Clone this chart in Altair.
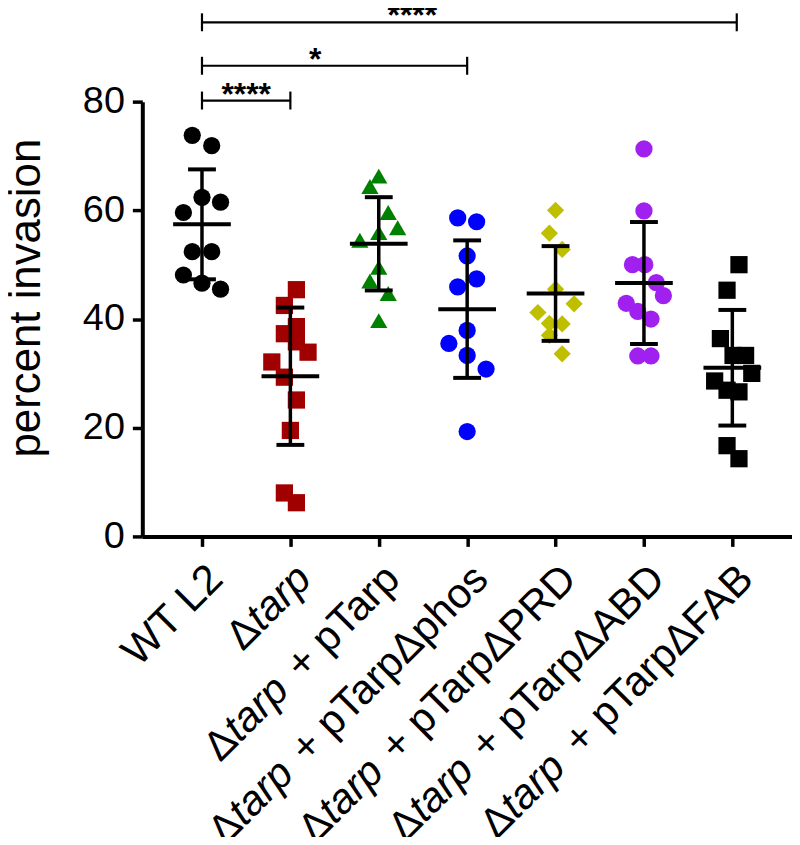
import altair as alt
import pandas as pd

# ---------------- data ----------------
group_names = ["WT L2", "Δtarp", "Δtarp + pTarp", "Δtarp + pTarpΔphos",
               "Δtarp + pTarpΔPRD", "Δtarp + pTarpΔABD", "Δtarp + pTarpΔFAB"]
label_prefix = ["WT L2", "Δ", "Δ", "Δ", "Δ", "Δ", "Δ"]
label_italic = ["", "tarp", "tarp", "tarp", "tarp", "tarp", "tarp"]
label_suffix = ["", "", " + pTarp", " + pTarpΔphos", " + pTarpΔPRD",
                " + pTarpΔABD", " + pTarpΔFAB"]

wt = [73.8, 71.9, 62.4, 61.5, 59.6, 52.4, 52.4, 48.1, 46.6, 45.5]
wt_jit = [-0.11, 0.11, 0, 0.21, -0.21, -0.11, 0.11, -0.21, 0, 0.21]
tarp = [45.4, 42.5, 38.6, 37.3, 35.8, 33.9, 32.1, 29.3, 25.1, 19.5, 8.0, 6.2]
tarp_jit = [0.068, -0.068, 0.068, -0.068, 0.068, 0.2, -0.21, -0.068, 0.068, 0, -0.068, 0.068]
ptarp = [66.3, 64.4, 59.6, 56.8, 55.9, 54.5, 49.5, 47.0, 44.7, 39.7]
ptarp_jit = [0, -0.1, 0.107, 0.214, 0, -0.214, 0, -0.1, 0.107, 0]
phos = [58.6, 57.9, 51.6, 47.4, 45.9, 37.9, 35.5, 33.3, 30.8, 19.3]
phos_jit = [-0.107, 0.107, 0, 0.107, -0.107, 0, -0.207, 0, 0.214, 0]
prd = [60.0, 55.8, 52.8, 45.5, 42.8, 41.2, 39.2, 39.1, 37.0, 33.6]
prd_jit = [0, -0.07, 0.075, 0, 0.21, -0.2, -0.07, 0.075, -0.07, 0.075]
abd = [71.3, 59.9, 50.0, 50.0, 46.7, 44.3, 42.9, 41.4, 40.0, 33.2, 33.2]
abd_jit = [0, 0, -0.13, 0.01, 0.14, 0.22, -0.2, -0.07, 0.08, -0.07, 0.08]
fab = [50.0, 45.3, 36.4, 33.3, 33.3, 30.0, 28.6, 26.9, 26.6, 16.7, 14.3]
fab_jit = [0.075, -0.06, -0.135, 0.008, 0.15, 0.22, -0.2, -0.06, 0.075, -0.06, 0.075]

series = [wt, tarp, ptarp, phos, prd, abd, fab]
jitters = [wt_jit, tarp_jit, ptarp_jit, phos_jit, prd_jit, abd_jit, fab_jit]

shapes = ["circle", "square", "triangle-up", "circle", "diamond", "circle", "square"]
colors = ["#000000", "#A00000", "#008000", "#0000FF", "#BFBF00", "#A020F0", "#000000"]

# significance brackets
br_start = [0, 0, 0]
br_end = [1, 3, 6.05]
br_level = [80.2, 86.6, 94.6]
br_text = ["****", "*", "****"]
br_text_x = [0.5, 1.28, 2.38]

# ---------------- layout ----------------
W, H = 653, 437
XMIN, XMAX = -0.675, 6.675
PXX = W / (XMAX - XMIN)
PXY = H / 80.0
FONT = "Liberation Sans"
LAB_FS = 42

rows = []
for i, (vals, jit) in enumerate(zip(series, jitters)):
    for v, j in zip(vals, jit):
        rows.append({"group": group_names[i], "idx": i, "value": v, "jitter": j})
df = pd.DataFrame(rows)

brdf = pd.DataFrame({"start": br_start, "end": br_end, "level": br_level,
                     "text": br_text, "tx": br_text_x})

# Arial / Liberation Sans advance widths (per 1000 em)
CW = {" ": 278, "+": 584, "Δ": 668, "W": 944, "T": 611, "L": 556, "2": 556,
      "t": 278, "a": 556, "r": 333, "p": 556, "h": 556, "o": 556, "s": 500,
      "P": 667, "R": 722, "D": 722, "A": 667, "B": 667, "F": 611}


def tw(s):
    return sum(CW.get(c, 556) for c in s) / 1000.0 * LAB_FS


LAB_DX, LAB_DY = 14.0, 36.0
C45 = 0.7071
lab_rows = []
for i in range(len(group_names)):
    segs = [(label_suffix[i], False, 0.0),
            (label_italic[i], True, tw(label_suffix[i])),
            (label_prefix[i], False, tw(label_suffix[i]) + tw(label_italic[i]))]
    for text, ital, shift in segs:
        if not text:
            continue
        lab_rows.append({"text": text, "italic": ital,
                         "lx": i + (LAB_DX - shift * C45) / PXX,
                         "ly": -(LAB_DY + shift * C45) / PXY})
labdf = pd.DataFrame(lab_rows)

XS = alt.Scale(domain=[XMIN, XMAX], nice=False, zero=False)
YS = alt.Scale(domain=[0, 80], nice=False, zero=True)

AX_X = alt.Axis(values=list(range(7)), labels=False, title=None, grid=False,
                tickSize=10, tickWidth=3.5, domainWidth=4, domainColor="black",
                tickColor="black")
AX_Y = alt.Axis(values=[0, 20, 40, 60, 80], title="percent invasion", grid=False,
                tickSize=10, tickWidth=3.5, domainWidth=4, domainColor="black",
                tickColor="black", labelFontSize=38, labelFont=FONT,
                labelColor="black", labelPadding=8, titleFontSize=44,
                titleFont=FONT, titleFontWeight="normal", titleColor="black",
                titleX=-116, titleY=197, titleBaseline="middle", titleAngle=270)


def X(f):
    return alt.X(f, scale=XS, axis=AX_X, title=None)


def Y(f):
    return alt.Y(f, scale=YS, axis=AX_Y, title="percent invasion")


base = alt.Chart(df)

points = base.transform_calculate(xpos="datum.idx + datum.jitter").mark_point(
    filled=True, opacity=1, size=300, strokeWidth=0
).encode(
    x=X("xpos:Q"),
    y=Y("value:Q"),
    shape=alt.Shape("group:N", scale=alt.Scale(domain=group_names, range=shapes), legend=None),
    color=alt.Color("group:N", scale=alt.Scale(domain=group_names, range=colors), legend=None),
)

stats = base.transform_aggregate(
    mean="mean(value)", sd="stdev(value)", groupby=["idx"]
).transform_calculate(lo="datum.mean - datum.sd", hi="datum.mean + datum.sd")

sd_rule = stats.mark_rule(color="black", strokeWidth=3.5).encode(
    x=X("idx:Q"), y=Y("lo:Q"), y2="hi:Q",
)
mean_tick = stats.mark_tick(orient="horizontal", size=58, thickness=4, color="black",
                            opacity=1).encode(x=X("idx:Q"), y=Y("mean:Q"))
caps = stats.transform_fold(["lo", "hi"], as_=["which", "capv"]).mark_tick(
    orient="horizontal", size=28, thickness=4, color="black", opacity=1
).encode(x=X("idx:Q"), y=Y("capv:Q"))

bchart = alt.Chart(brdf)
br_h = bchart.mark_rule(color="black", strokeWidth=2.2).encode(
    x=X("start:Q"), x2="end:Q", y=Y("level:Q"),
)
br_v = bchart.transform_fold(["start", "end"], as_=["side", "bx"]).transform_calculate(
    b0="datum.level - 1.65", b1="datum.level + 1.65"
).mark_rule(color="black", strokeWidth=2.2).encode(
    x=X("bx:Q"), y=Y("b0:Q"), y2="b1:Q",
)
stars = bchart.mark_text(font=FONT, fontSize=32, fontWeight="bold", color="black",
                         baseline="middle", align="center", dy=-6).encode(
    x=X("tx:Q"), y=Y("level:Q"), text="text:N",
)

lchart = alt.Chart(labdf)
lab_norm = lchart.transform_filter("!datum.italic").mark_text(
    font=FONT, fontSize=LAB_FS, color="black", angle=315, align="right",
    baseline="middle"
).encode(x=X("lx:Q"), y=Y("ly:Q"), text="text:N")
lab_ital = lchart.transform_filter("datum.italic").mark_text(
    font=FONT, fontSize=LAB_FS, fontStyle="italic", color="black", angle=315,
    align="right", baseline="middle"
).encode(x=X("lx:Q"), y=Y("ly:Q"), text="text:N")

chart = alt.layer(
    points, sd_rule, mean_tick, caps, br_h, br_v, stars, lab_norm, lab_ital
).properties(
    width=W, height=H,
    padding={"left": 135, "top": 92, "right": 0, "bottom": 300},
    autosize=alt.AutoSizeParams(type="none"),
    background="white",
).configure_view(stroke=None)

chart.save("out.html", embed_options={"renderer": "svg", "actions": False})
